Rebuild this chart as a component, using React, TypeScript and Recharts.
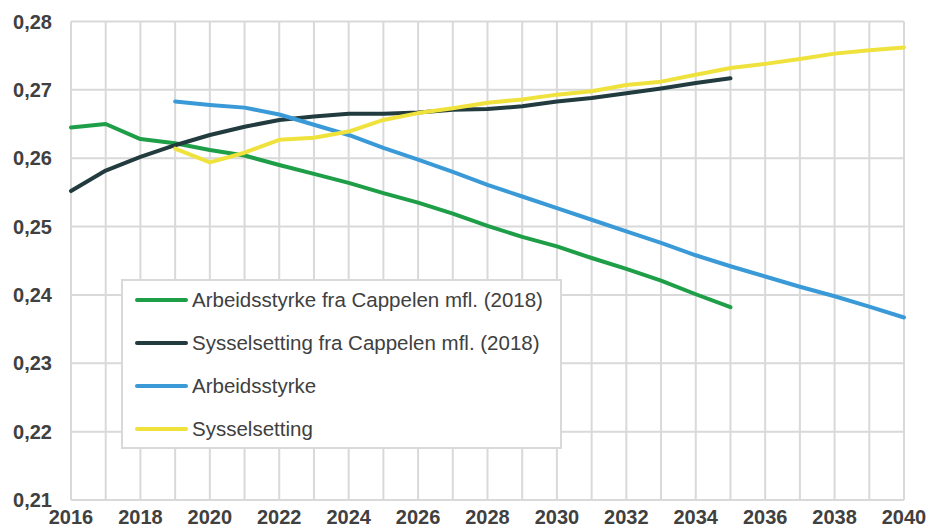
import React from 'react';
import { LineChart, Line, XAxis, YAxis, CartesianGrid, Legend } from 'recharts';

const years = [
  2016, 2017, 2018, 2019, 2020, 2021, 2022, 2023, 2024, 2025, 2026, 2027, 2028,
  2029, 2030, 2031, 2032, 2033, 2034, 2035, 2036, 2037, 2038, 2039, 2040,
];

const labeledYears = [2016, 2018, 2020, 2022, 2024, 2026, 2028, 2030, 2032, 2034, 2036, 2038, 2040];

const yTicks = [0.21, 0.22, 0.23, 0.24, 0.25, 0.26, 0.27, 0.28];
const yTickLabels = ['0,21', '0,22', '0,23', '0,24', '0,25', '0,26', '0,27', '0,28'];

// 2016–2035
const arbeidsstyrkeCappelen = [
  0.2645, 0.265, 0.2628, 0.2622, 0.2612, 0.2604, 0.259, 0.2577, 0.2564, 0.2549,
  0.2535, 0.2519, 0.2501, 0.2485, 0.2471, 0.2454, 0.2438, 0.2421, 0.2401, 0.2382,
  null, null, null, null, null,
];

// 2016–2035
const sysselsettingCappelen = [
  0.2552, 0.2582, 0.2602, 0.2619, 0.2634, 0.2646, 0.2656, 0.2661, 0.2665, 0.2665,
  0.2667, 0.2671, 0.2672, 0.2676, 0.2683, 0.2688, 0.2695, 0.2702, 0.271, 0.2717,
  null, null, null, null, null,
];

// 2019–2040
const arbeidsstyrke = [
  null, null, null,
  0.2683, 0.2678, 0.2674, 0.2664, 0.2649, 0.2634, 0.2615, 0.2598, 0.258, 0.2561,
  0.2544, 0.2527, 0.251, 0.2493, 0.2476, 0.2458, 0.2442, 0.2427, 0.2412, 0.2398,
  0.2383, 0.2367,
];

// 2019–2040
const sysselsetting = [
  null, null, null,
  0.2614, 0.2594, 0.2608, 0.2627, 0.263, 0.2639, 0.2656, 0.2666, 0.2673, 0.2681,
  0.2686, 0.2693, 0.2698, 0.2707, 0.2712, 0.2722, 0.2732, 0.2738, 0.2745, 0.2753,
  0.2758, 0.2762,
];

const seriesNames = [
  'Arbeidsstyrke fra Cappelen mfl. (2018)',
  'Sysselsetting fra Cappelen mfl. (2018)',
  'Arbeidsstyrke',
  'Sysselsetting',
];

const seriesColors = ['#1f9e48', '#213b3e', '#3a9ad8', '#efe23c'];

const seriesValues = [arbeidsstyrkeCappelen, sysselsettingCappelen, arbeidsstyrke, sysselsetting];

const data = years.map((year, i) => {
  const row: Record<string, number | null> = { year };
  seriesValues.forEach((vals, s) => {
    row['s' + s] = vals[i];
  });
  return row;
});

const FONT = '"Liberation Sans", Arial, sans-serif';
const TEXT = '#404040';
const GRID = '#d9d9d9';

const renderLegend = () => (
  <div
    style={{
      boxSizing: 'border-box',
      width: 441,
      height: 170,
      background: '#ffffff',
      border: `2px solid ${GRID}`,
      fontFamily: FONT,
      fontSize: 20.5,
      color: TEXT,
      position: 'relative',
    }}
  >
    {seriesNames.map((name, i) => (
      <div
        key={name}
        style={{
          position: 'absolute',
          left: 12,
          top: 18.5 + i * 43 - 12,
          height: 24,
          display: 'flex',
          alignItems: 'center',
          whiteSpace: 'nowrap',
        }}
      >
        <span
          style={{
            display: 'inline-block',
            width: 53,
            height: 4,
            borderRadius: 2,
            background: seriesColors[i],
            marginRight: 4,
          }}
        />
        <span>{name}</span>
      </div>
    ))}
  </div>
);

export default function App() {
  return (
    <div style={{ position: 'absolute', left: 0, top: 0, width: 927, height: 529, background: '#fff' }}>
      <LineChart
        width={927}
        height={529}
        data={data}
        margin={{ top: 21.5, right: 23, bottom: 0, left: 0 }}
      >
        <CartesianGrid stroke={GRID} strokeWidth={2} />
        <XAxis
          dataKey="year"
          type="number"
          domain={[2016, 2040]}
          ticks={years}
          interval={0}
          tickFormatter={(v: number) => (labeledYears.includes(v) ? String(v) : '')}
          axisLine={false}
          tickLine={false}
          tickSize={6}
          tickMargin={4}
          height={29}
          tick={{ fill: TEXT, fontSize: 20, fontWeight: 'bold', fontFamily: FONT }}
        />
        <YAxis
          type="number"
          domain={[0.21, 0.28]}
          ticks={yTicks}
          interval={0}
          tickFormatter={(v: number) => yTickLabels[yTicks.findIndex((t) => Math.abs(t - v) < 1e-9)] ?? ''}
          axisLine={false}
          tickLine={false}
          tickSize={6}
          tickMargin={13}
          width={71}
          tick={{ fill: TEXT, fontSize: 20, fontWeight: 'bold', fontFamily: FONT }}
        />
        <Legend
          content={renderLegend}
          layout="horizontal"
          verticalAlign="middle"
          align="center"
          wrapperStyle={{ left: 121, top: 279, width: 441, height: 170 }}
        />
        {seriesNames.map((name, i) => (
          <Line
            key={name}
            name={name}
            dataKey={'s' + i}
            type="linear"
            stroke={seriesColors[i]}
            strokeWidth={4}
            dot={false}
            activeDot={false}
            isAnimationActive={false}
            strokeLinecap="round"
            strokeLinejoin="round"
          />
        ))}
      </LineChart>
    </div>
  );
}
